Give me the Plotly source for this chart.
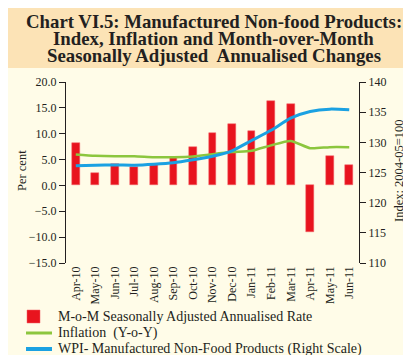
import plotly.graph_objects as go

months = ["Apr-10", "May-10", "Jun-10", "Jul-10", "Aug-10", "Sep-10", "Oct-10", "Nov-10",
          "Dec-10", "Jan-11", "Feb-11", "Mar-11", "Apr-11", "May-11", "Jun-11"]
mom_saar = [8.3, 2.4, 4.2, 3.5, 4.0, 5.3, 7.4, 10.2, 11.8, 10.5, 16.4, 15.8, -9.0, 5.6, 4.0]
inflation = [6.0, 5.75, 5.65, 5.65, 5.45, 5.45, 5.6, 6.05, 6.45, 6.7, 7.75, 8.6, 7.2, 7.4, 7.4]
wpi_index = [126.1, 126.2, 126.25, 126.2, 126.35, 126.6, 127.1, 127.7, 128.6, 130.3,
             132.0, 134.0, 135.1, 135.5, 135.4]
left_ticks = [-15, -10, -5, 0, 5, 10, 15, 20]
right_ticks = [110, 115, 120, 125, 130, 135, 140]
series_names = ["M-o-M Seasonally Adjusted Annualised Rate",
                "Inflation  (Y-o-Y)",
                "WPI- Manufactured Non-Food Products (Right Scale)"]
colors = ["#E8141E", "#8CC63E", "#1BA1E2"]

xs = list(range(len(months)))
SERIF = "Liberation Serif, Times New Roman, serif"
INK = "#231F20"

fig = go.Figure()
fig.add_trace(go.Bar(x=xs, y=mom_saar, name=series_names[0],
                     marker=dict(color=colors[0], line=dict(color="#F0606A", width=0.5)),
                     width=0.4, showlegend=False))
fig.add_trace(go.Scatter(x=xs, y=inflation, name=series_names[1], mode="lines", showlegend=False,
                         line=dict(color=colors[1], width=2.5, shape="spline", smoothing=0.6)))
fig.add_trace(go.Scatter(x=xs, y=wpi_index, name=series_names[2], showlegend=False,
                         mode="lines", yaxis="y2",
                         line=dict(color=colors[2], width=3, shape="spline", smoothing=0.6)))

L, R, T, B = 58, 60, 74, 100
W, H = 411, 355
ph = H - T - B
pw = W - L - R


def px_x(px):
    return (px - L) / pw


def px_y(py):
    return (H - B - py) / ph


fig.update_layout(
    width=W, height=H,
    margin=dict(l=L, r=R, t=T, b=B, autoexpand=False),
    paper_bgcolor="#FFFCE8", plot_bgcolor="#FFFCE8",
    font=dict(family=SERIF, size=12, color=INK),
    bargap=0, showlegend=False,
    xaxis=dict(range=[-0.5, 14.5], tickvals=xs, ticktext=months, tickangle=-90,
               showline=False, ticks="", showgrid=False, zeroline=False, automargin=False,
               tickfont=dict(size=12, family=SERIF)),
    xaxis2=dict(range=[-0.5, 14.5], overlaying="x", anchor="free", position=15 / 35,
                domain=[0, 1], automargin=False,
                tickvals=[i + 0.5 for i in range(14)], ticks="outside", ticklen=7,
                tickcolor=INK, showticklabels=False, showline=True,
                linecolor=INK, linewidth=1.2, showgrid=False, zeroline=False),
    yaxis=dict(range=[-15, 20], tickvals=left_ticks, tickformat=".1f", automargin=False,
               showline=True, linecolor=INK, linewidth=1.2, ticks="outside",
               ticklen=6, tickcolor=INK, showgrid=False, zeroline=False,
               tickfont=dict(size=12, family=SERIF)),
    yaxis2=dict(range=[110, 140], tickvals=right_ticks, overlaying="y", side="right",
                automargin=False,
                showline=True, linecolor=INK, linewidth=1.2, ticks="outside",
                ticklen=6, tickcolor=INK, showgrid=False, zeroline=False,
                tickfont=dict(size=12, family=SERIF)),
)

# axis titles
fig.add_annotation(text="Per cent", xref="paper", yref="paper", x=px_x(14), y=px_y(162),
                   textangle=-90, showarrow=False, xanchor="center", yanchor="middle",
                   font=dict(size=12.5, family=SERIF, color=INK))
fig.add_annotation(text="Index: 2004-05=100", xref="paper", yref="paper", x=px_x(391), y=px_y(163),
                   textangle=-90, showarrow=False, xanchor="center", yanchor="middle",
                   font=dict(size=12.5, family=SERIF, color=INK))

# title band
fig.add_shape(type="rect", xref="paper", yref="paper",
              x0=px_x(0), x1=px_x(W), y0=px_y(60), y1=px_y(0),
              fillcolor="#FCE3B6", line=dict(width=0), layer="below")

title_lines = ["Chart VI.5: Manufactured Non-food Products:",
               "Index, Inflation and Month-over-Month",
               "Seasonally Adjusted  Annualised Changes"]
for i, t in enumerate(title_lines):
    fig.add_annotation(text="<b>%s</b>" % t, xref="paper", yref="paper",
                       x=px_x(W / 2), y=px_y(13 + 17.5 * i),
                       xanchor="center", yanchor="middle", showarrow=False,
                       font=dict(size=18.8, family=SERIF, color=INK))

# legend (drawn manually)
rows = [308, 325, 341]
fig.add_shape(type="rect", xref="paper", yref="paper",
              x0=px_x(19), x1=px_x(32), y0=px_y(315), y1=px_y(302),
              fillcolor=colors[0], line=dict(color="#F0606A", width=0.5))
fig.add_shape(type="line", xref="paper", yref="paper",
              x0=px_x(18), x1=px_x(44), y0=px_y(rows[1]), y1=px_y(rows[1]),
              line=dict(color=colors[1], width=3))
fig.add_shape(type="line", xref="paper", yref="paper",
              x0=px_x(18), x1=px_x(44), y0=px_y(rows[2]), y1=px_y(rows[2]),
              line=dict(color=colors[2], width=4))
for name, r in zip(series_names, rows):
    fig.add_annotation(text=name, xref="paper", yref="paper", x=px_x(48), y=px_y(r),
                       xanchor="left", yanchor="middle", showarrow=False,
                       font=dict(size=14, family=SERIF, color=INK))

fig.write_html("out.html")
